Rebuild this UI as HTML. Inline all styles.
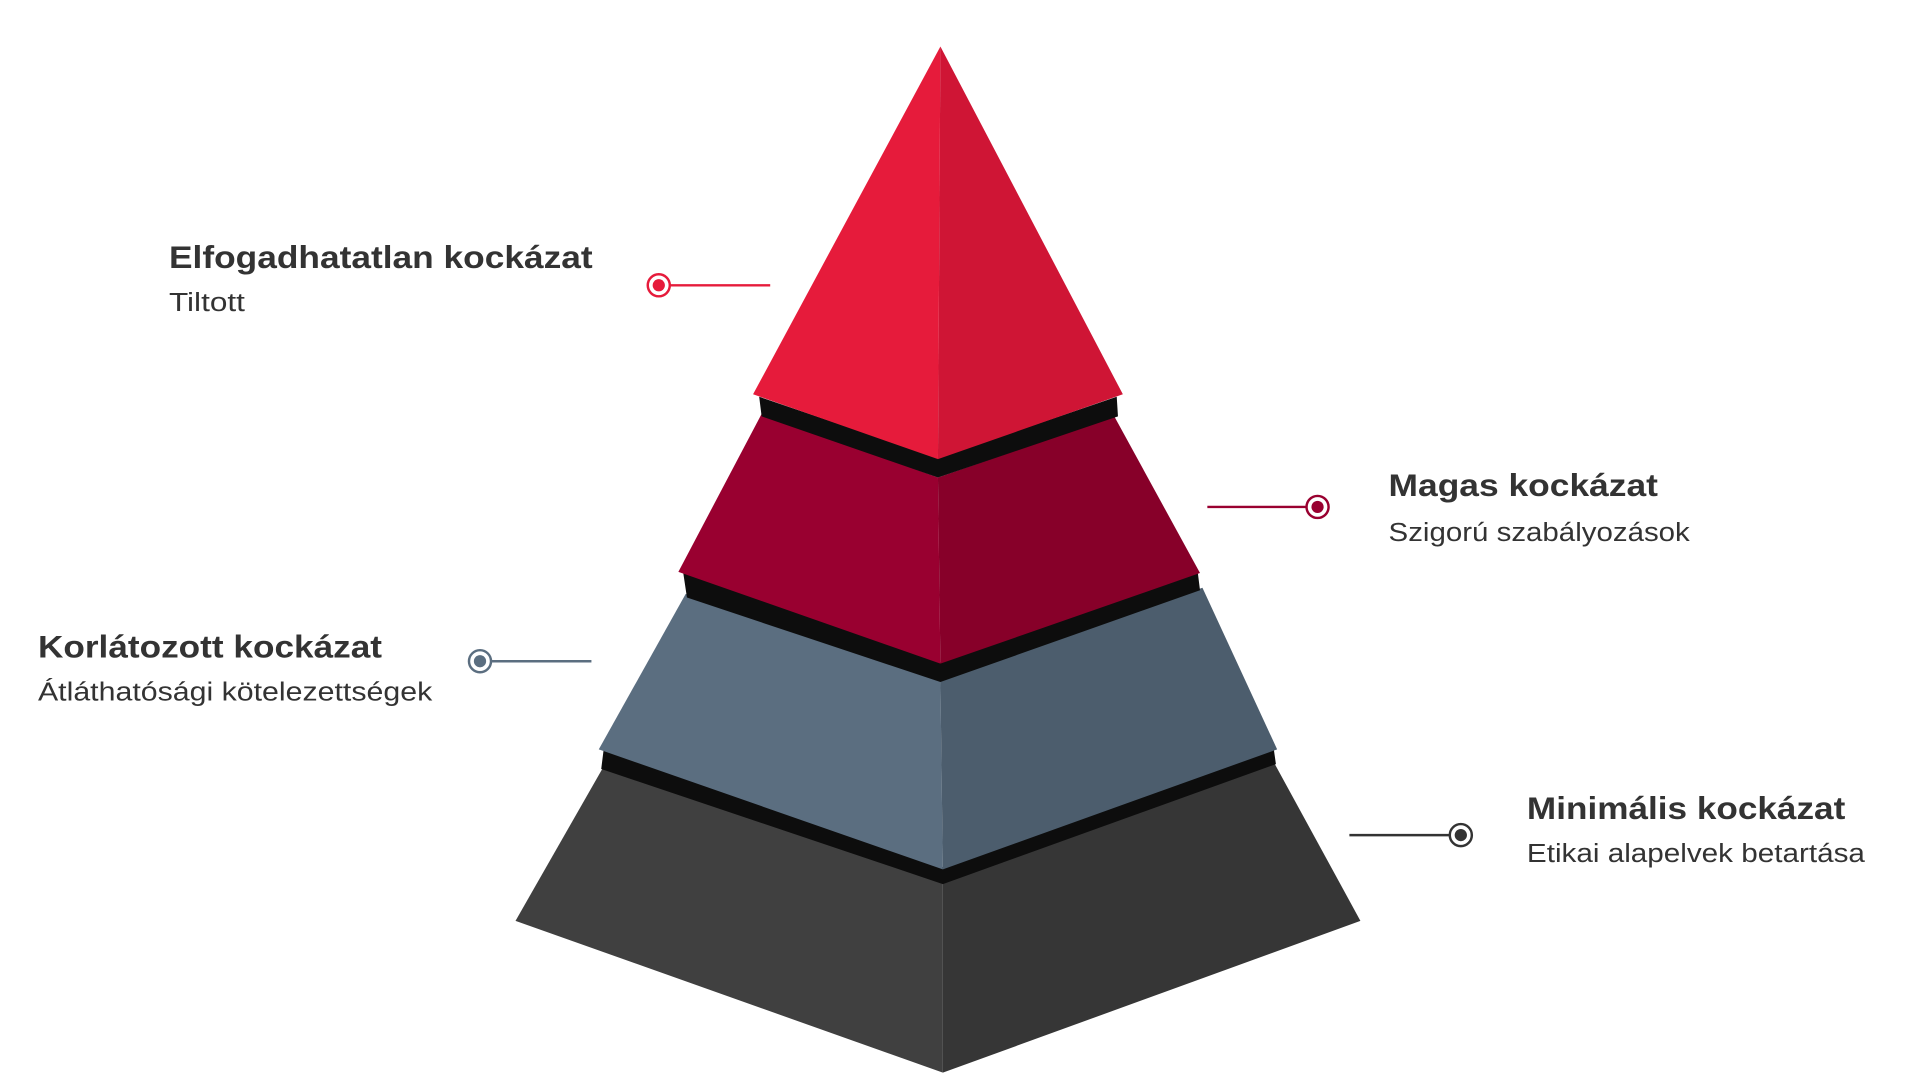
<!DOCTYPE html>
<html><head><meta charset="utf-8"><style>
html,body{margin:0;padding:0;background:#fff;width:1920px;height:1080px;overflow:hidden}
svg{display:block}
text{font-family:"Liberation Sans",sans-serif;fill:#333}
.t{font-weight:bold;font-size:26px}
.s{font-size:21px}
</style></head><body>
<svg width="1920" height="1080" viewBox="0 0 1568 882" xmlns="http://www.w3.org/2000/svg">
<!-- tier 4 -->
<polygon points="493,626 770,720 770,876 421,752" fill="#404040"/>
<polygon points="770,720 1040,622 1111,752 770,876" fill="#363636"/>
<!-- band 3 -->
<polygon points="493,612 770,708 1040,610 1042,624 770,722 491,628" fill="#0d0d0d"/>
<!-- tier 3 -->
<polygon points="560,485 768,556 770,710 489,612" fill="#5b6e80"/>
<polygon points="768,556 982,480 1043,612 770,710" fill="#4c5d6d"/>
<!-- band 2 -->
<polygon points="558,468 768,541 978,466 980,482 768,557 561,488" fill="#0d0d0d"/>
<!-- tier 2 -->
<polygon points="622,338 766,390 768,542 554,467" fill="#990030"/>
<polygon points="766,390 910,340 980,468 768,542" fill="#870029"/>
<!-- band 1 -->
<polygon points="620,324 766,374 912,324 913,340 766,390 622,340" fill="#0d0d0d"/>
<!-- tier 1 -->
<polygon points="768,38 766,375 615,322" fill="#e61b3b"/>
<polygon points="768,38 917,322 766,375" fill="#cf1535"/>

<!-- connectors -->
<g stroke-width="2" fill="none">
<line x1="547" y1="233" x2="629" y2="233" stroke="#e61b3b"/>
<circle cx="538" cy="233" r="9" stroke="#e61b3b" fill="#fff"/>
<line x1="986" y1="414" x2="1067" y2="414" stroke="#990030"/>
<circle cx="1076" cy="414" r="9" stroke="#990030" fill="#fff"/>
<line x1="401" y1="540" x2="483" y2="540" stroke="#5b6e80"/>
<circle cx="392" cy="540" r="9" stroke="#5b6e80" fill="#fff"/>
<line x1="1102" y1="682" x2="1184" y2="682" stroke="#333"/>
<circle cx="1193" cy="682" r="9" stroke="#333" fill="#fff"/>
</g>
<circle cx="538" cy="233" r="5" fill="#e61b3b"/>
<circle cx="1076" cy="414" r="5" fill="#990030"/>
<circle cx="392" cy="540" r="5" fill="#5b6e80"/>
<circle cx="1193" cy="682" r="5" fill="#333"/>

<!-- labels -->
<text class="t" x="138" y="219" textLength="346" lengthAdjust="spacingAndGlyphs">Elfogadhatatlan kockázat</text>
<text class="s" x="138" y="254" textLength="62" lengthAdjust="spacingAndGlyphs">Tiltott</text>
<text class="t" x="1134" y="405" textLength="220" lengthAdjust="spacingAndGlyphs">Magas kockázat</text>
<text class="s" x="1134" y="442" textLength="246" lengthAdjust="spacingAndGlyphs">Szigorú szabályozások</text>
<text class="t" x="31" y="537" textLength="281" lengthAdjust="spacingAndGlyphs">Korlátozott kockázat</text>
<text class="s" x="31" y="572" textLength="322" lengthAdjust="spacingAndGlyphs">Átláthatósági kötelezettségek</text>
<text class="t" x="1247" y="669" textLength="260" lengthAdjust="spacingAndGlyphs">Minimális kockázat</text>
<text class="s" x="1247" y="704" textLength="276" lengthAdjust="spacingAndGlyphs">Etikai alapelvek betartása</text>
</svg>
</body></html>
